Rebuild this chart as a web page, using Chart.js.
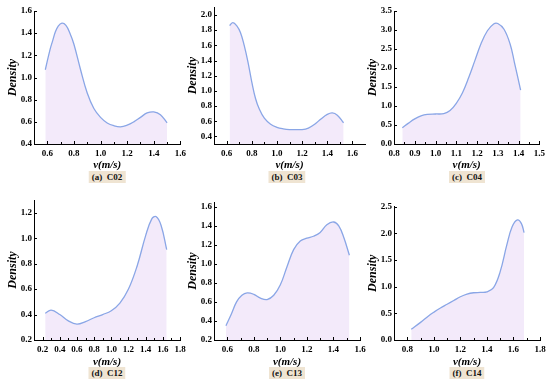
<!DOCTYPE html>
<html>
<head>
<meta charset="utf-8">
<script src="https://cdn.jsdelivr.net/npm/chart.js@4.4.1/dist/chart.umd.min.js"></script>
<style>
    body { margin: 0; background: #fff; }
    #wrap { position: relative; width: 550px; height: 383px; overflow: hidden; }
    canvas { position: absolute; }
    .cap {
        position: absolute;
        transform: translate(-50%, -50%);
        background: #efe4d2;
        font: bold 9px 'Liberation Serif', serif;
        padding: 1px 3px;
        white-space: pre;
        color: #111;
    }
</style>
</head>
<body>
<div id="wrap"></div>
<script>
// density curves, one pair of arrays per sample
const c02V = [0.585, 0.62, 0.64, 0.66, 0.68, 0.71, 0.74, 0.77, 0.80, 0.85, 0.90, 0.95, 1.00, 1.05, 1.10, 1.15, 1.20, 1.25, 1.30, 1.35, 1.40, 1.45, 1.50];
const c02D = [1.07, 1.25, 1.33, 1.41, 1.46, 1.49, 1.47, 1.40, 1.30, 1.07, 0.86, 0.72, 0.64, 0.59, 0.565, 0.555, 0.57, 0.60, 0.64, 0.68, 0.69, 0.665, 0.59];

const c03V = [0.624, 0.65, 0.68, 0.71, 0.74, 0.77, 0.80, 0.83, 0.86, 0.90, 0.95, 1.00, 1.05, 1.10, 1.15, 1.20, 1.25, 1.30, 1.35, 1.40, 1.44, 1.48, 1.53];
const c03D = [1.86, 1.90, 1.86, 1.77, 1.60, 1.38, 1.12, 0.90, 0.76, 0.64, 0.56, 0.52, 0.50, 0.49, 0.49, 0.49, 0.51, 0.56, 0.63, 0.69, 0.71, 0.68, 0.58];

const c04V = [0.84, 0.87, 0.90, 0.93, 0.96, 1.00, 1.04, 1.07, 1.10, 1.13, 1.16, 1.19, 1.22, 1.25, 1.28, 1.30, 1.33, 1.36, 1.38, 1.41];
const c04D = [0.43, 0.55, 0.66, 0.74, 0.78, 0.79, 0.80, 0.88, 1.07, 1.35, 1.75, 2.20, 2.65, 2.98, 3.16, 3.17, 3.02, 2.62, 2.15, 1.42];

const c12V = [0.23, 0.30, 0.40, 0.50, 0.60, 0.70, 0.80, 0.90, 1.00, 1.10, 1.20, 1.30, 1.40, 1.47, 1.52, 1.58, 1.645];
const c12D = [0.41, 0.435, 0.40, 0.35, 0.325, 0.345, 0.375, 0.40, 0.43, 0.49, 0.60, 0.78, 1.02, 1.15, 1.17, 1.10, 0.91];

const c13V = [0.59, 0.63, 0.67, 0.71, 0.75, 0.80, 0.85, 0.90, 0.95, 1.00, 1.05, 1.10, 1.15, 1.20, 1.25, 1.30, 1.35, 1.40, 1.44, 1.48, 1.52];
const c13D = [0.35, 0.47, 0.60, 0.67, 0.695, 0.68, 0.64, 0.625, 0.67, 0.78, 0.97, 1.15, 1.24, 1.27, 1.29, 1.33, 1.41, 1.44, 1.40, 1.27, 1.09];

const c14V = [0.83, 0.90, 0.96, 1.00, 1.05, 1.10, 1.15, 1.20, 1.25, 1.30, 1.35, 1.40, 1.45, 1.50, 1.55, 1.59, 1.63, 1.66, 1.68];
const c14D = [0.20, 0.33, 0.45, 0.52, 0.60, 0.67, 0.74, 0.81, 0.86, 0.885, 0.89, 0.90, 0.98, 1.28, 1.78, 2.12, 2.25, 2.18, 2.01];

// tick labels per panel
const ticksX1 = [0.6, 0.8, 1.0, 1.2, 1.4, 1.6];
const ticksY1 = [0.4, 0.6, 0.8, 1.0, 1.2, 1.4, 1.6];
const ticksY2 = [0.4, 0.6, 0.8, 1.0, 1.2, 1.4, 1.6, 1.8, 2.0];
const ticksX3 = [0.8, 0.9, 1.0, 1.1, 1.2, 1.3, 1.4, 1.5];
const ticksY3 = [0.0, 0.5, 1.0, 1.5, 2.0, 2.5, 3.0, 3.5];
const ticksX4 = [0.2, 0.4, 0.6, 0.8, 1.0, 1.2, 1.4, 1.6, 1.8];
const ticksY4 = [0.2, 0.4, 0.6, 0.8, 1.0, 1.2];
const ticksY5 = [0.2, 0.4, 0.6, 0.8, 1.0, 1.2, 1.4, 1.6];
const ticksX6 = [0.8, 1.0, 1.2, 1.4, 1.6, 1.8];
const ticksY6 = [0.0, 0.5, 1.0, 1.5, 2.0, 2.5];

const panels = [
    { cap: '(a)  C02', v: c02V, d: c02D, xt: ticksX1, yt: ticksY1, xr: [0.5, 1.6], yr: [0.4, 1.6], left: 0, top: 0, h: 172, padTop: 11, padRight: 9 },
    { cap: '(b)  C03', v: c03V, d: c03D, xt: ticksX1, yt: ticksY2, xr: [0.5, 1.7], yr: [0.3, 2.1], left: 180, top: 0, h: 172, padTop: 4, padRight: 5 },
    { cap: '(c)  C04', v: c04V, d: c04D, xt: ticksX3, yt: ticksY3, xr: [0.8, 1.5], yr: [0, 3.5], left: 360, top: 0, h: 172, padTop: 11, padRight: 10.7 },
    { cap: '(d)  C12', v: c12V, d: c12D, xt: ticksX4, yt: ticksY4, xr: [0.1, 1.8], yr: [0.2, 1.3], left: 0, top: 190, h: 179, padTop: 10, padRight: 10 },
    { cap: '(e)  C13', v: c13V, d: c13D, xt: ticksX1, yt: ticksY5, xr: [0.5, 1.6], yr: [0.2, 1.65], left: 180, top: 190, h: 179, padTop: 12, padRight: 10 },
    { cap: '(f)  C14', v: c14V, d: c14D, xt: ticksX6, yt: ticksY6, xr: [0.7, 1.8], yr: [0, 2.5], left: 360, top: 190, h: 179, padTop: 16.5, padRight: 10 }
];

const serif = "'Liberation Serif', 'Times New Roman', serif";

// tick marks point into the plot, with a smaller one halfway between labels
const innerTicks = {
    id: 'innerTicks',
    afterDraw(chart) {
        const { ctx, chartArea, scales } = chart;
        ctx.save();
        ctx.strokeStyle = '#000';
        ctx.lineWidth = 1;
        ctx.beginPath();
        const xs = scales.x.ticks.map(t => t.value);
        xs.forEach((v, i) => {
            const px = Math.round(scales.x.getPixelForValue(v)) + 0.5;
            ctx.moveTo(px, chartArea.bottom);
            ctx.lineTo(px, chartArea.bottom - 3);
            if (i < xs.length - 1) {
                const mx = Math.round(scales.x.getPixelForValue((v + xs[i + 1]) / 2)) + 0.5;
                ctx.moveTo(mx, chartArea.bottom);
                ctx.lineTo(mx, chartArea.bottom - 2);
            }
        });
        scales.y.ticks.forEach(t => {
            const py = Math.round(scales.y.getPixelForValue(t.value)) + 0.5;
            ctx.moveTo(chartArea.left, py);
            ctx.lineTo(chartArea.left + 3, py);
        });
        ctx.stroke();
        ctx.restore();
    }
};

const wrap = document.getElementById('wrap');

panels.forEach(p => {
    const canvas = document.createElement('canvas');
    canvas.width = 190;
    canvas.height = p.h;
    canvas.style.left = p.left + 'px';
    canvas.style.top = p.top + 'px';
    wrap.appendChild(canvas);

    const axisY = p.top === 0 ? 144 : 150;

    new Chart(canvas.getContext('2d'), {
        type: 'line',
        data: {
            datasets: [{
                data: p.v.map((v, i) => ({ x: v, y: p.d[i] })),
                borderColor: '#8aa6e6',
                backgroundColor: 'rgba(242, 232, 250, 0.9)',
                borderWidth: 1.3,
                pointRadius: 0,
                tension: 0.4,
                fill: 'start'
            }]
        },
        options: {
            responsive: false,
            animation: false,
            layout: { padding: { top: p.padTop, right: p.padRight, left: 0, bottom: 0 } },
            plugins: { legend: { display: false }, tooltip: { enabled: false } },
            scales: {
                x: {
                    type: 'linear',
                    min: p.xr[0],
                    max: p.xr[1],
                    afterBuildTicks: s => { s.ticks = p.xt.map(v => ({ value: v })); },
                    afterFit: s => { s.height = p.h - axisY; },
                    grid: { display: false, drawTicks: false, tickLength: 0 },
                    border: { color: '#000', width: 1 },
                    ticks: {
                        color: '#000',
                        padding: 4,
                        maxRotation: 0,
                        font: { family: serif, size: 9, weight: 'bold' },
                        callback: v => v.toFixed(1)
                    },
                    title: {
                        display: true,
                        text: 'v(m/s)',
                        color: '#000',
                        padding: { top: 0, bottom: 0 },
                        font: { family: serif, size: 11, weight: 'bold', style: 'italic' }
                    }
                },
                y: {
                    min: p.yr[0],
                    max: p.yr[1],
                    afterBuildTicks: s => { s.ticks = p.yt.map(v => ({ value: v })); },
                    afterFit: s => { s.width = 34; },
                    grid: { display: false, drawTicks: false, tickLength: 0 },
                    border: { color: '#000', width: 1 },
                    ticks: {
                        color: '#000',
                        padding: 2,
                        font: { family: serif, size: 9, weight: 'bold' },
                        callback: v => v.toFixed(1)
                    },
                    title: {
                        display: true,
                        text: 'Density',
                        color: '#000',
                        padding: { top: 6, bottom: 0 },
                        font: { family: serif, size: 12, weight: 'bold', style: 'italic' }
                    }
                }
            }
        },
        plugins: [innerTicks]
    });

    const cap = document.createElement('div');
    cap.className = 'cap';
    cap.textContent = p.cap;
    cap.style.left = (p.left + 107) + 'px';
    cap.style.top = (p.top + (p.top === 0 ? 177 : 183)) + 'px';
    wrap.appendChild(cap);
});
</script>
</body>
</html>
